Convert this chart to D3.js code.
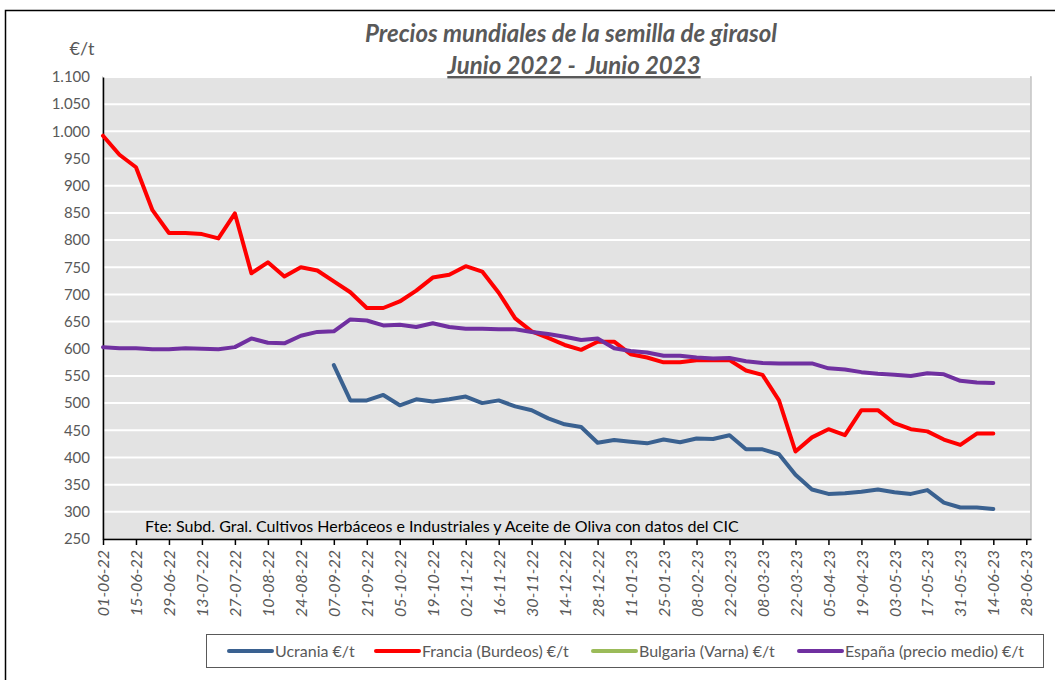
<!DOCTYPE html>
<meta charset="utf-8">
<style>
  body { margin: 0; background: #fff; }
  svg text { font-family: Lato, "Open Sans", sans-serif; }
</style>
<script src="https://d3js.org/d3.v7.min.js"></script>
<div id="chart"></div>
<script>
  // weekly dates (dd-mm-yy)
  var dates = ["01-06-22","08-06-22","15-06-22","22-06-22","29-06-22","06-07-22","13-07-22","20-07-22","27-07-22",
    "03-08-22","10-08-22","17-08-22","24-08-22","31-08-22","07-09-22","14-09-22","21-09-22","28-09-22",
    "05-10-22","12-10-22","19-10-22","26-10-22","02-11-22","09-11-22","16-11-22","23-11-22","30-11-22",
    "07-12-22","14-12-22","21-12-22","28-12-22","04-01-23","11-01-23","18-01-23","25-01-23",
    "01-02-23","08-02-23","15-02-23","22-02-23","01-03-23","08-03-23","15-03-23","22-03-23","29-03-23",
    "05-04-23","12-04-23","19-04-23","26-04-23","03-05-23","10-05-23","17-05-23","24-05-23","31-05-23",
    "07-06-23","14-06-23"]

  // Ucrania starts on 07-09-22 (null before)
  var ucrania = [null,null,null,null,null,null,null,null,null,null,null,null,null,null,
    570,505,505,515,496,507,503,507,512,500,505,494,487,472,461,456,427,432,429,426,
    433,428,435,434,441,415,415,406,368,341,333,334,337,341,336,333,340,317,308,308,305]
  var francia = [992,957,934,855,813,813,811,803,849,739,759,733,750,744,724,704,675,675,687,707,
    731,736,752,742,703,656,632,620,607,598,613,613,590,584,575,575,579,579,579,560,
    552,505,411,437,452,441,487,487,463,452,448,433,423,444,444]
  var bulgaria = []  // no data in the period, only in legend
  var espana = [603,601,601,599,599,601,600,599,603,619,611,610,624,631,632,654,652,643,644,640,
    647,640,637,637,636,636,631,627,622,616,619,601,596,593,587,587,584,582,583,577,
    574,573,573,573,564,562,557,554,552,550,555,553,541,538,537]

  // x axis tick labels (every two weeks)
  var tickLabels = ["01-06-22","15-06-22","29-06-22","13-07-22","27-07-22","10-08-22","24-08-22","07-09-22",
    "21-09-22","05-10-22","19-10-22","02-11-22","16-11-22","30-11-22","14-12-22","28-12-22","11-01-23",
    "25-01-23","08-02-23","22-02-23","08-03-23","22-03-23","05-04-23","19-04-23","03-05-23","17-05-23",
    "31-05-23","14-06-23","28-06-23"]
  var yTicks = [250,300,350,400,450,500,550,600,650,700,750,800,850,900,950,1000,1050,1100]

  var series = [
    {name: "Ucrania €/t", values: ucrania, color: "#3a6190"},
    {name: "Francia (Burdeos) €/t", values: francia, color: "#ff0000"},
    {name: "Bulgaria (Varna) €/t", values: bulgaria, color: "#9bbb59"},
    {name: "España (precio medio) €/t", values: espana, color: "#7030a0"}
  ]

  var width = 1055, height = 680
  var plotLeft = 103, plotRight = 1031, plotTop = 77, plotBottom = 539

  var parse = d3.timeParse("%d-%m-%y")
  var es = d3.formatLocale({decimal: ",", thousands: ".", grouping: [3], currency: ["", "€"]})

  var svg = d3.select("#chart").append("svg")
    .attr("width", width)
    .attr("height", height)

  // outer chart frame
  svg.append("path")
    .attr("d", "M5.5," + height + "V10.5H" + width)
    .attr("fill", "none")
    .attr("stroke", "#000")
    .attr("stroke-width", 1.5)

  var x = d3.scaleTime()
    .domain([parse("01-06-22"), parse("30-06-23")])
    .range([plotLeft, plotRight])
  var y = d3.scaleLinear()
    .domain([250, 1100])
    .range([plotBottom, plotTop])

  // plot area
  svg.append("rect")
    .attr("x", plotLeft).attr("y", plotTop)
    .attr("width", plotRight - plotLeft).attr("height", plotBottom - plotTop)
    .attr("fill", "#e3e3e3")
    .attr("stroke", "#c4c4c4")
    .attr("stroke-width", 1.5)

  // gridlines
  svg.append("g")
    .selectAll("line")
    .data(yTicks.filter(function(d) { return d > 250 }))
    .enter().append("line")
      .attr("x1", plotLeft).attr("x2", plotRight - 1)
      .attr("y1", function(d) { return y(d) })
      .attr("y2", function(d) { return y(d) })
      .attr("stroke", "#fff")
      .attr("stroke-width", 2)

  // y axis
  var yAxis = svg.append("g")
    .attr("transform", "translate(" + plotLeft + ",0)")
    .call(d3.axisLeft(y).tickValues(yTicks).tickSize(0).tickPadding(13).tickFormat(es.format(",")))
  yAxis.select(".domain").attr("stroke", "#000").attr("stroke-width", 1.5)
  yAxis.selectAll("text")
    .attr("fill", "#595959")
    .style("font-size", "15px")

  // x axis
  var xAxis = svg.append("g")
    .attr("transform", "translate(0," + plotBottom + ")")
    .call(d3.axisBottom(x).tickValues(tickLabels.map(parse)).tickSize(6).tickSizeOuter(0)
      .tickFormat(d3.timeFormat("%d-%m-%y")))
  xAxis.select(".domain").attr("stroke", "#000").attr("stroke-width", 1.5)
  xAxis.selectAll(".tick line").attr("stroke", "#000").attr("stroke-width", 1.5)
  xAxis.selectAll("text")
    .attr("fill", "#595959")
    .style("font-size", "16px")
    .style("font-style", "italic")
    .attr("text-anchor", "end")
    .attr("transform", "rotate(-90)")
    .attr("x", -11)
    .attr("y", 0)
    .attr("dy", "0.35em")

  // lines
  var line = d3.line()
    .defined(function(d) { return d.v != null })
    .x(function(d) { return x(parse(d.date)) })
    .y(function(d) { return y(d.v) })

  series.forEach(function(s) {
    var pts = s.values.map(function(v, i) { return {date: dates[i], v: v} })
    if (!pts.length) return
    svg.append("path")
      .datum(pts)
      .attr("d", line)
      .attr("fill", "none")
      .attr("stroke", s.color)
      .attr("stroke-width", 4)
      .attr("stroke-linejoin", "round")
      .attr("stroke-linecap", "round")
  })

  // source note
  svg.append("text")
    .attr("x", 145).attr("y", 532)
    .attr("fill", "#000")
    .style("font-size", "16px")
    .text("Fte: Subd. Gral. Cultivos Herbáceos e Industriales y Aceite de Oliva con datos del CIC")

  // unit label
  svg.append("text")
    .attr("x", 82).attr("y", 55)
    .attr("text-anchor", "middle")
    .attr("fill", "#595959")
    .style("font-size", "18px")
    .text("€/t")

  // title
  svg.append("text")
    .attr("x", 571).attr("y", 42)
    .attr("text-anchor", "middle")
    .attr("fill", "#595959")
    .style("font-size", "24px")
    .style("font-style", "italic")
    .style("font-weight", "bold")
    .text("Precios mundiales de la semilla de girasol")
  svg.append("text")
    .attr("x", 574).attr("y", 74)
    .attr("text-anchor", "middle")
    .attr("fill", "#595959")
    .style("font-size", "24px")
    .style("font-style", "italic")
    .style("font-weight", "bold")
    .style("text-decoration", "underline")
    .style("white-space", "pre")
    .text("Junio 2022 -  Junio 2023")

  // legend
  svg.append("rect")
    .attr("x", 206.5).attr("y", 634.5)
    .attr("width", 837).attr("height", 33)
    .attr("fill", "#fff")
    .attr("stroke", "#595959")
    .attr("stroke-width", 1)

  var legendX = [229, 376, 593, 799]
  var lg = svg.append("g").selectAll("g")
    .data(series)
    .enter().append("g")
      .attr("transform", function(d, i) { return "translate(" + legendX[i] + ",651)" })
  lg.append("line")
    .attr("x1", 0).attr("x2", 43)
    .attr("stroke", function(d) { return d.color })
    .attr("stroke-width", 4)
    .attr("stroke-linecap", "round")
  lg.append("text")
    .attr("x", 46).attr("y", 0)
    .attr("dy", "0.35em")
    .attr("fill", "#595959")
    .style("font-size", "16px")
    .text(function(d) { return d.name })
</script>
